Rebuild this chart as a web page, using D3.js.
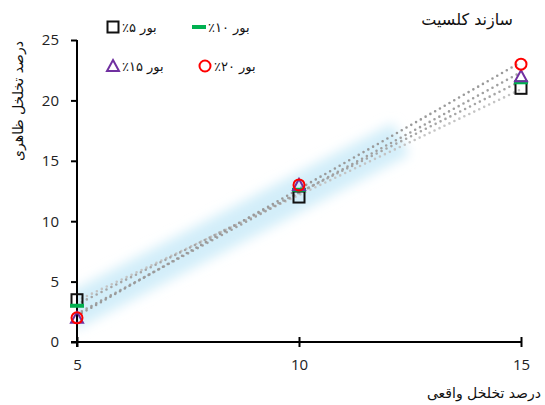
<!DOCTYPE html>
<html>
<head>
<meta charset="utf-8">
<script src="https://cdn.jsdelivr.net/npm/d3@7"></script>
<style>
  body { margin: 0; background: #fff; }
  .fa { font-family: "DejaVu Sans", sans-serif; }
  .tick text { font-family: "Open Sans", "Liberation Sans", sans-serif; font-size: 15px; fill: #222; }
</style>
</head>
<body>
<div id="container"></div>
<script>
// داده‌ها
const xValues = [5, 10, 15];
const bor5 = [3.5, 12, 21];
const bor10 = [3, 12.6, 21.5];
const bor15 = [2, 13, 22];
const bor20 = [2, 13, 23];
const xTicks = [5, 10, 15];
const yTicks = [0, 5, 10, 15, 20, 25];

const series = [
  { name: "بور ۵٪", values: bor5, shape: "square", color: "#111", trend: "#c4c4c4" },
  { name: "بور ۱۰٪", values: bor10, shape: "dash", color: "#00b050", trend: "#a6a6a6" },
  { name: "بور ۱۵٪", values: bor15, shape: "triangle", color: "#7030a0", trend: "#a0a0a0" },
  { name: "بور ۲۰٪", values: bor20, shape: "circle", color: "#ff0000", trend: "#9a9a9a" }
];

const W = 545, H = 405;
const svg = d3.select("#container").append("svg")
  .attr("width", W).attr("height", H);

const x = d3.scaleLinear().domain([5, 15]).range([77, 521]);
const y = d3.scaleLinear().domain([0, 25]).range([342, 40]);

// رگرسیون خطی
function fit(vals) {
  const mx = d3.mean(xValues), my = d3.mean(vals);
  let num = 0, den = 0;
  xValues.forEach((xv, i) => { num += (xv - mx) * (vals[i] - my); den += (xv - mx) ** 2; });
  const b = num / den;
  return { b, a: my - b * mx };
}

// هاله آبی
const defs = svg.append("defs");
defs.append("filter").attr("id", "blur")
  .attr("x", "-20%").attr("y", "-50%").attr("width", "140%").attr("height", "200%")
  .append("feGaussianBlur").attr("stdDeviation", 6);
defs.append("clipPath").attr("id", "plot")
  .append("rect").attr("x", 77).attr("y", 30).attr("width", 470).attr("height", 312);

const avg = xValues.map((_, i) => d3.mean(series, s => s.values[i]));
const fAvg = fit(avg);
svg.append("g").attr("clip-path", "url(#plot)")
  .append("line")
  .attr("x1", x(4.8)).attr("y1", y(fAvg.a + fAvg.b * 4.8))
  .attr("x2", x(12.3)).attr("y2", y(fAvg.a + fAvg.b * 12.3))
  .attr("stroke", "#d3eef9").attr("stroke-width", 36)
  .attr("stroke-linecap", "butt")
  .attr("filter", "url(#blur)");

// خطوط روند
series.forEach(s => {
  const f = fit(s.values);
  svg.append("line")
    .attr("x1", x(5)).attr("y1", y(f.a + f.b * 5))
    .attr("x2", x(15)).attr("y2", y(f.a + f.b * 15))
    .attr("stroke", s.trend).attr("stroke-width", 2.6)
    .attr("stroke-linecap", "round")
    .attr("stroke-dasharray", "0 5.5");
});

// محورها
const yAxis = svg.append("g").attr("transform", "translate(77,0)")
  .call(d3.axisLeft(y).tickValues(yTicks).tickSize(6).tickSizeOuter(0).tickPadding(6));
yAxis.select(".domain").attr("stroke", "#000").attr("stroke-width", 2)
  .attr("d", `M0,${y(25)}V${y(0) + 5}`);
yAxis.selectAll(".tick line").attr("stroke", "#000").attr("stroke-width", 2);
yAxis.selectAll(".tick text").attr("x", -18);

const xAxis = svg.append("g").attr("transform", `translate(0,${y(0)})`)
  .call(d3.axisBottom(x).tickValues(xTicks).tickSize(5).tickSizeOuter(0).tickPadding(12));
xAxis.select(".domain").attr("stroke", "#000").attr("stroke-width", 2)
  .attr("d", `M${x(5) - 6},0H${x(15)}`);
xAxis.selectAll(".tick line").attr("stroke", "#000").attr("stroke-width", 2)
  .attr("y1", -5);

// نشانگرها
function drawMarker(g, shape, color, cx, cy) {
  if (shape === "square") {
    g.append("rect").attr("x", cx - 5.5).attr("y", cy - 5.5).attr("width", 11).attr("height", 11)
      .attr("fill", "none").attr("stroke", color).attr("stroke-width", 2);
  } else if (shape === "dash") {
    g.append("rect").attr("x", cx - 7).attr("y", cy - 2).attr("width", 14).attr("height", 4)
      .attr("fill", color);
  } else if (shape === "triangle") {
    g.append("path").attr("d", `M${cx},${cy - 6}L${cx + 6},${cy + 5}L${cx - 6},${cy + 5}Z`)
      .attr("fill", "none").attr("stroke", color).attr("stroke-width", 2);
  } else {
    g.append("circle").attr("cx", cx).attr("cy", cy).attr("r", 5.5)
      .attr("fill", "none").attr("stroke", color).attr("stroke-width", 2);
  }
}

const marks = svg.append("g");
series.forEach(s => {
  s.values.forEach((v, i) => drawMarker(marks, s.shape, s.color, x(xValues[i]), y(v)));
});

// راهنما
const legendPos = [[113, 27], [199, 27], [113, 66], [205, 66]];
series.forEach((s, i) => {
  const [lx, ly] = legendPos[i];
  drawMarker(svg, s.shape, s.color, lx, ly);
  svg.append("text").attr("class", "fa")
    .attr("x", lx + 9).attr("y", ly + 4.5)
    .attr("direction", "rtl").attr("text-anchor", "end")
    .attr("font-size", 13).attr("fill", "#111")
    .text(s.name);
});

// عنوان‌ها
svg.append("text").attr("class", "fa")
  .attr("x", 513).attr("y", 25).attr("text-anchor", "start")
  .attr("direction", "rtl").attr("font-size", 16).attr("fill", "#111")
  .text("سازند کلسیت");

svg.append("text").attr("class", "fa")
  .attr("transform", "translate(23,101) rotate(-90)")
  .attr("text-anchor", "middle").attr("direction", "rtl")
  .attr("font-size", 14).attr("fill", "#111")
  .text("درصد تخلخل ظاهری");

svg.append("text").attr("class", "fa")
  .attr("x", 541).attr("y", 398).attr("text-anchor", "start")
  .attr("direction", "rtl").attr("font-size", 14).attr("fill", "#111")
  .text("درصد تخلخل واقعی");
</script>
</body>
</html>
